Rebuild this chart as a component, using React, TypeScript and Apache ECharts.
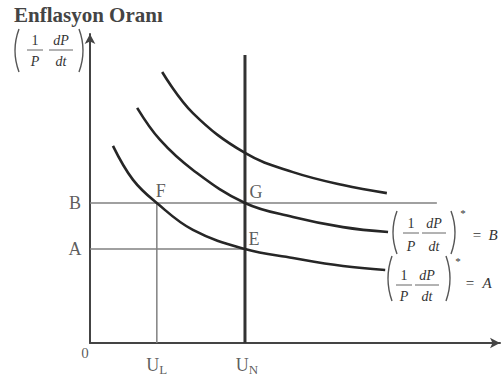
import React, { useEffect, useRef } from "react";
import * as echarts from "echarts";

// ---- data (abstract units: x 0..100, y 0..100) ----
const curveTop: [number, number][] = [
  [17.6, 87.7], [25.1, 74.4], [37.8, 61.5], [49.5, 55.3], [61.7, 51.1], [72.4, 48.5],
];
const curveMid: [number, number][] = [
  [11.5, 76.1], [17.1, 65.7], [25.1, 56.0], [37.8, 45.3], [49.5, 40.8], [61.7, 37.5], [72.7, 35.9],
];
const curveLow: [number, number][] = [
  [5.6, 63.8], [10.5, 52.8], [16.3, 45.3], [25.1, 36.6], [37.8, 30.4], [49.5, 27.5], [61.7, 24.9], [72.0, 23.6],
];
const U_L = 16.3;
const U_N = 37.8;
const LEVEL_B = 45.3;
const LEVEL_A = 30.4;
const B_LINE_END = 84.6;
const U_N_TOP = 93.2;
const pointLabels = ["F", "G", "E"];
const pointXY: [number, number][] = [[U_L, LEVEL_B], [U_N, LEVEL_B], [U_N, LEVEL_A]];
const pointOffsets: [number, number][] = [[4, -12], [11, -11], [9, -10]];

const SERIF = "Liberation Serif";
const TXT = "#333333";

function paren(x: number, top: number, bottom: number, left: boolean) {
  const mid = (top + bottom) / 2;
  return {
    type: "bezierCurve",
    shape: left
      ? { x1: x + 6, y1: top, x2: x + 6, y2: bottom, cpx1: x - 2, cpy1: mid }
      : { x1: x, y1: top, x2: x, y2: bottom, cpx1: x + 8, cpy1: mid },
    style: { stroke: "#555", lineWidth: 1.4, fill: "none" },
  };
}

function t(text: string, x: number, y: number, size: number, extra: any = {}) {
  return {
    type: "text",
    x,
    y,
    style: {
      text,
      fontFamily: SERIF,
      fontSize: size,
      fill: TXT,
      align: "center",
      verticalAlign: "middle",
      ...extra,
    },
  };
}

function hline(x1: number, x2: number, y: number) {
  return {
    type: "line",
    shape: { x1, y1: y, x2, y2: y },
    style: { stroke: "#666", lineWidth: 1 },
  };
}

// formula: (1/P dP/dt), parameters in pixels
function formula(o: {
  lp: number; rp: number; top: number; bottom: number;
  c1: number; c2: number; yNum: number; yLine: number; yDen: number;
  w1: number; w2: number; fs: number;
}) {
  return [
    paren(o.lp, o.top, o.bottom, true),
    paren(o.rp, o.top, o.bottom, false),
    t("1", o.c1, o.yNum, o.fs),
    hline(o.c1 - o.w1, o.c1 + o.w1, o.yLine),
    t("P", o.c1, o.yDen, o.fs, { fontStyle: "italic" }),
    t("dP", o.c2, o.yNum, o.fs, { fontStyle: "italic" }),
    hline(o.c2 - o.w2, o.c2 + o.w2, o.yLine),
    t("dt", o.c2, o.yDen, o.fs, { fontStyle: "italic" }),
  ];
}

export default function App() {
  const ref = useRef<HTMLDivElement>(null);
  useEffect(() => {
    if (!ref.current) return;
    const chart = echarts.init(ref.current, undefined, { renderer: "svg" });
    const axisCommon = {
      type: "value" as const,
      min: 0,
      max: 100,
      axisLabel: { show: false },
      axisTick: { show: false },
      splitLine: { show: false },
      axisLine: {
        show: true,
        symbol: ["none", "arrow"],
        symbolSize: [8, 10],
        lineStyle: { color: "#444", width: 2 },
      },
    };
    const curveStyle = { color: "#262626", width: 2.6 };
    const refStyle = { color: "#808080", width: 1.5 };
    const graphics: any[] = [
      t("Enflasyon Oranı", 14, 15, 21, { align: "left", fontWeight: "bold", fill: "#444" }),
      ...formula({ lp: 13, rp: 79, top: 29, bottom: 72, c1: 35, c2: 61, yNum: 40, yLine: 50, yDen: 61, w1: 8, w2: 12, fs: 14 }),
      ...formula({ lp: 391, rp: 451, top: 211, bottom: 254, c1: 411, c2: 434, yNum: 223, yLine: 233, yDen: 246, w1: 8, w2: 12, fs: 14 }),
      t("*", 463, 213, 11),
      t("=", 477, 235, 15),
      t("B", 493, 235, 15, { fontStyle: "italic" }),
      ...formula({ lp: 386, rp: 446, top: 256, bottom: 301, c1: 404, c2: 427, yNum: 275, yLine: 285, yDen: 296, w1: 8, w2: 12, fs: 14 }),
      t("*", 458, 261, 11),
      t("=", 470, 283, 15),
      t("A", 487, 283, 15, { fontStyle: "italic" }),
    ];
    const labelData = [
      ...pointLabels.map((n, i) => ({
        value: pointXY[i],
        name: n,
        label: { offset: pointOffsets[i] },
      })),
      { value: [0, LEVEL_B], name: "B", label: { offset: [-15, 0] } },
      { value: [0, LEVEL_A], name: "A", label: { offset: [-15, 0] } },
      { value: [0, 0], name: "0", label: { offset: [-5, 10], fontSize: 15 } },
      { value: [U_L, 0], name: "U{s|L}", label: { offset: [0, 22] } },
      { value: [U_N, 0], name: "U{s|N}", label: { offset: [2, 22] } },
    ];
    chart.setOption({
      animation: false,
      backgroundColor: "#ffffff",
      grid: { left: 90, right: 4, top: 34, bottom: 37, containLabel: false },
      xAxis: axisCommon,
      yAxis: axisCommon,
      series: [
        { type: "line", data: [[0, LEVEL_B], [B_LINE_END, LEVEL_B]], showSymbol: false, lineStyle: refStyle, silent: true },
        { type: "line", data: [[0, LEVEL_A], [U_N, LEVEL_A]], showSymbol: false, lineStyle: refStyle, silent: true },
        { type: "line", data: [[U_L, 0], [U_L, LEVEL_B]], showSymbol: false, lineStyle: refStyle, silent: true },
        { type: "line", data: [[U_N, 0], [U_N, U_N_TOP]], showSymbol: false, lineStyle: { color: "#333", width: 3 }, silent: true },
        { type: "line", data: curveTop, smooth: 0.4, showSymbol: false, lineStyle: curveStyle },
        { type: "line", data: curveMid, smooth: 0.4, showSymbol: false, lineStyle: curveStyle },
        { type: "line", data: curveLow, smooth: 0.4, showSymbol: false, lineStyle: curveStyle },
        {
          type: "scatter",
          symbolSize: 0,
          itemStyle: { color: TXT },
          data: labelData,
          label: {
            show: true,
            position: "inside",
            formatter: (p: any) => p.name,
            fontFamily: SERIF,
            fontSize: 18,
            color: TXT,
            rich: { s: { fontFamily: SERIF, fontSize: 13, color: TXT, padding: [9, 0, 0, 0] } },
          },
        },
      ],
      graphic: graphics,
    });
    return () => chart.dispose();
  }, []);
  return <div ref={ref} style={{ width: 504, height: 380, position: "absolute", left: 0, top: 0 }} />;
}
